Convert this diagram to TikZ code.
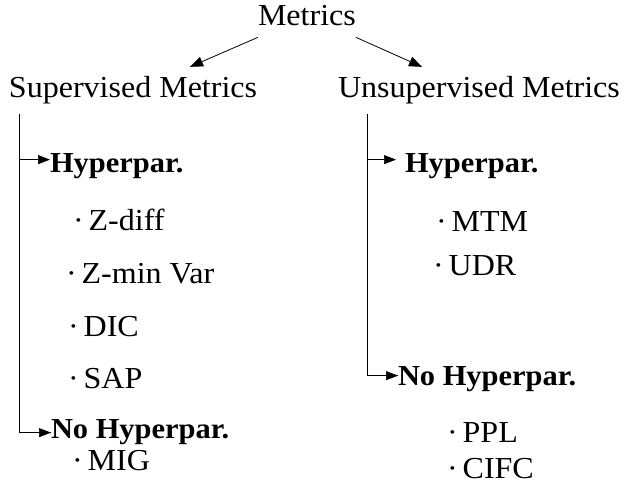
\documentclass[tikz,border=0pt]{standalone}
\usepackage{fontspec}
\setmainfont{Liberation Serif}[FakeStretch=1.05]
\usetikzlibrary{arrows.meta}
\newcommand{\itemdot}{·\hspace{5pt}}
\begin{document}
\begin{tikzpicture}[x=1pt,y=-1pt,
  txt/.style={inner sep=0pt,outer sep=0pt,anchor=base west,font=\fontsize{30.5}{36}\selectfont},
  bld/.style={inner sep=0pt,outer sep=0pt,anchor=base west,font=\fontsize{29}{34}\selectfont\bfseries},
  itm/.style={inner sep=0pt,outer sep=0pt,anchor=base west,font=\fontsize{30.5}{36}\selectfont},
  toparrow/.style={line width=0.8pt,-{Triangle[length=13pt,width=10pt]}},
  branch/.style={line width=0.8pt},
  brarrow/.style={line width=0.7pt,-{Triangle[length=12pt,width=9pt]}}]
\useasboundingbox (0,0) rectangle (625,487);
% headings
\node[txt] (metrics) at (258,26) {Metrics};
\node[txt] (sup) at (9,98) {Supervised Metrics};
\node[txt] (unsup) at (338,98) {Unsupervised Metrics};
% left column
\node[bld] (lhyp) at (50,172) {Hyperpar.};
\node[itm] (zdiff) at (73,230) {\itemdot Z-diff};
\node[itm] (zmin) at (66,283) {\itemdot Z-min Var};
\node[itm] (dic) at (68,336) {\itemdot DIC};
\node[itm] (sap) at (68,388) {\itemdot SAP};
\node[bld] (lno) at (51,438) {No Hyperpar.};
\node[itm] (mig) at (72,470) {\itemdot MIG};
% right column
\node[bld] (rhyp) at (405,172) {Hyperpar.};
\node[itm] (mtm) at (436,231) {\itemdot MTM};
\node[itm] (udr) at (433,275) {\itemdot UDR};
\node[bld] (rno) at (398,385) {No Hyperpar.};
\node[itm] (ppl) at (447,442) {\itemdot PPL};
\node[itm] (cifc) at (447,478) {\itemdot CIFC};
% top arrows
\draw[toparrow] ([yshift=-11pt]metrics.south west) -- ([xshift=181pt,yshift=10pt]sup.north west);
\draw[toparrow] ([yshift=-11pt]metrics.south east) -- ([xshift=84pt,yshift=10pt]unsup.north west);
% left branches
\coordinate (ltop) at ([xshift=10pt,yshift=-10pt]sup.south west);
\coordinate (lh) at ([yshift=6pt]lhyp.west);
\coordinate (ln) at ([yshift=-1pt]lno.west);
\draw[branch] (ltop) |- (ln);
\draw[brarrow] (ltop |- ln) -- (ln);
\draw[brarrow] (ltop |- lh) -- (lh);
% right branches
\coordinate (rtop) at ([xshift=29pt,yshift=-10pt]unsup.south west);
\coordinate (rh) at ([yshift=6pt]rhyp.west);
\coordinate (rn) at ([yshift=3pt]rno.west);
\draw[branch] (rtop) |- (rn);
\draw[brarrow] (rtop |- rn) -- (rn);
\draw[brarrow] (rtop |- rh) -- ([xshift=-9pt]rh);
\end{tikzpicture}
\end{document}
